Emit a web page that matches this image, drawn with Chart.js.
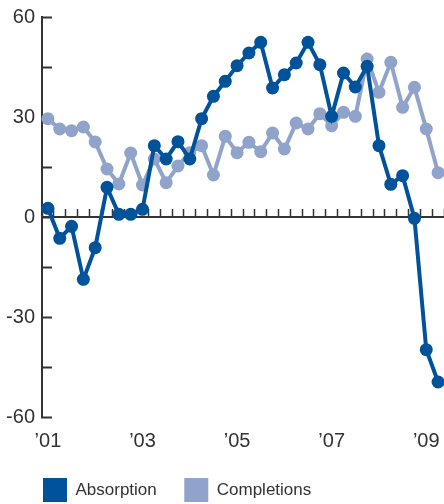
<!DOCTYPE html>
<html>
<head>
<meta charset="utf-8">
<script src="https://cdn.jsdelivr.net/npm/chart.js@4/dist/chart.umd.min.js"></script>
<style>
html,body{margin:0;padding:0;background:#fff;}
#wrap{width:444px;height:504px;position:relative;}
</style>
</head>
<body>
<div id="wrap"><canvas id="c"></canvas></div>
<script>
// Quarterly categories, 2001 Q1 .. 2009 Q2
const quarters = [
  "2001 Q1","2001 Q2","2001 Q3","2001 Q4",
  "2002 Q1","2002 Q2","2002 Q3","2002 Q4",
  "2003 Q1","2003 Q2","2003 Q3","2003 Q4",
  "2004 Q1","2004 Q2","2004 Q3","2004 Q4",
  "2005 Q1","2005 Q2","2005 Q3","2005 Q4",
  "2006 Q1","2006 Q2","2006 Q3","2006 Q4",
  "2007 Q1","2007 Q2","2007 Q3","2007 Q4",
  "2008 Q1","2008 Q2","2008 Q3","2008 Q4",
  "2009 Q1","2009 Q2"
];
const absorption = [
  2.6, -6.4, -2.8, -18.7, -9.2, 8.9, 0.8, 0.8, 2.3,
  21.4, 17.4, 22.6, 17.4, 29.5, 36.2, 40.7, 45.4, 49.2, 52.4,
  38.7, 42.7, 46.2, 52.4, 45.7, 30.2, 43.2, 39.0, 45.2,
  21.4, 9.8, 12.4, -0.4, -39.8, -49.5
];
const completions = [
  29.5, 26.4, 25.9, 27.0, 22.5, 14.4, 9.9, 19.2, 9.6,
  17.4, 10.3, 15.3, 19.3, 21.4, 12.6, 24.2, 19.3, 22.4, 19.6,
  25.2, 20.4, 28.2, 26.4, 31.0, 27.4, 31.4, 30.2, 47.4,
  37.4, 46.4, 32.9, 38.9, 26.4, 13.3
];
const yearTickLabels = ["\u201901", "\u201903", "\u201905", "\u201907", "\u201909"];
const yTickLabels = [-60, -30, 0, 30, 60];
const seriesNames = ["Absorption", "Completions"];

const DARK = "#00539A";
const LIGHT = "#8FA3CB";
const AXIS = "#333333";
const TICK_FONT = {family: "'Liberation Sans', 'Open Sans', sans-serif", size: 20};
const LEGEND_FONT = {family: "'Liberation Sans', 'Open Sans', sans-serif", size: 17};

// shift the legend so its first swatch lines up with the y axis
const legendShift = {
  id: 'legendShift',
  afterLayout(chart) {
    if (chart.legend) { chart.legend.left += 13.5; }
  }
};

new Chart(document.getElementById('c'), {
  type: 'line',
  data: {
    labels: quarters,
    datasets: [
      {label: seriesNames[0], data: absorption, borderColor: DARK, backgroundColor: DARK,
       pointBackgroundColor: DARK, pointBorderWidth: 0, pointRadius: 6.5, borderWidth: 4, tension: 0},
      {label: seriesNames[1], data: completions, borderColor: LIGHT, backgroundColor: LIGHT,
       pointBackgroundColor: LIGHT, pointBorderWidth: 0, pointRadius: 6.5, borderWidth: 4, tension: 0}
    ]
  },
  plugins: [legendShift],
  options: {
    responsive: true,
    maintainAspectRatio: false,
    animation: false,
    events: [],
    layout: {autoPadding: false, padding: {top: 17, left: 2, right: 0, bottom: 0}},
    plugins: {
      tooltip: {enabled: false},
      legend: {
        position: 'bottom',
        align: 'start',
        maxHeight: 53.5,
        labels: {
          boxWidth: 24, boxHeight: 24, padding: 27.5, color: AXIS, font: LEGEND_FONT,
          generateLabels: (chart) => {
            const items = Chart.defaults.plugins.legend.labels.generateLabels(chart);
            items.forEach(it => { it.lineWidth = 0; it.strokeStyle = 'rgba(0,0,0,0)'; });
            return items;
          }
        }
      }
    },
    scales: {
      x: {
        type: 'category',
        offset: true,
        grid: {display: false, drawTicks: false},
        border: {display: false},
        ticks: {
          autoSkip: false, maxRotation: 0, minRotation: 0, padding: 12,
          color: AXIS, font: TICK_FONT,
          callback: (v, i) => (i % 8 === 0 ? yearTickLabels[i / 8] : '')
        },
        afterFit: (s) => { s.height = 33.5; s.paddingLeft = 0; s.paddingRight = 0; }
      },
      x2: {
        type: 'category',
        axis: 'x',
        position: {y: 0},
        offset: true,
        grid: {offset: true, drawOnChartArea: false, drawTicks: true, tickLength: -9, tickWidth: 1.5, tickColor: AXIS},
        border: {display: true, color: AXIS, width: 2},
        ticks: {display: false}
      },
      y: {
        min: -60, max: 60,
        grid: {drawOnChartArea: false, drawTicks: true, tickLength: -10, tickWidth: 2, tickColor: AXIS},
        border: {display: true, color: AXIS, width: 2},
        ticks: {
          stepSize: 15, padding: 17, color: AXIS, font: TICK_FONT,
          callback: (v) => (yTickLabels.includes(v) ? String(v) : '')
        },
        afterFit: (s) => { s.width = 40; s.paddingTop = 0; s.paddingBottom = 0; }
      }
    }
  }
});
</script>
</body>
</html>
